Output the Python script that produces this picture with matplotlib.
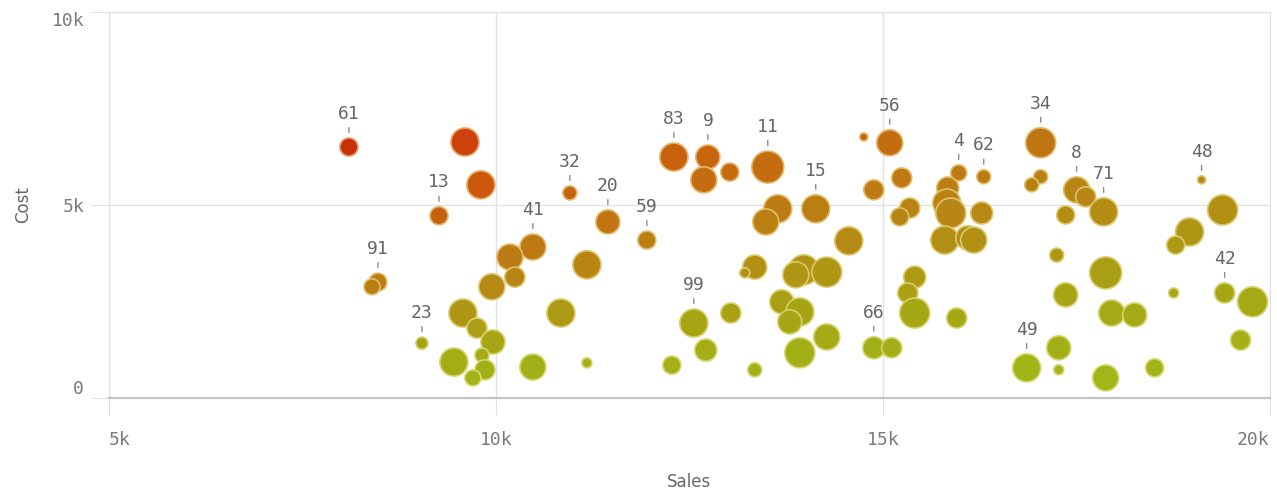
import numpy as np
import matplotlib.pyplot as plt
from matplotlib.colors import LinearSegmentedColormap, Normalize, to_rgb

# bubble data
sales = [8100, 9600, 9806, 9264, 8475, 8398, 9044, 10956, 11447, 10478,
         10181, 10245, 9948, 11176, 10840, 9574, 9755, 9961, 9457, 9819,
         9858, 9703, 10478, 11176, 11951, 12300, 12739, 12687, 13023, 13514,
         13643, 13488, 14134, 14561, 13346, 13217, 13979, 13876, 14276, 13695,
         13928, 13798, 14276, 13928, 12558, 13036, 12713, 12274, 13346, 14755,
         15090, 15245, 14884, 15349, 15220, 15413, 15323, 15413, 14884, 15116,
         15956, 15982, 15840, 15827, 15879, 16279, 16305, 15801, 16098, 16176,
         17041, 17041, 16925, 17506, 17623, 17364, 17855, 17248, 17881, 17364,
         17959, 18256, 16860, 17274, 17274, 17881, 18514, 19121, 19393, 18966,
         18786, 18760, 19419, 19780, 19625]
cost = [6500, 6630, 5520, 4720, 3000, 2880, 1420, 5310, 4560, 3910,
        3650, 3130, 2880, 3450, 2200, 2200, 1810, 1450, 930, 1110,
        730, 520, 800, 910, 4090, 6240, 6240, 5650, 5850, 5980,
        4900, 4560, 4900, 4070, 3390, 3240, 3320, 3190, 3260, 2490,
        2230, 1970, 1580, 1170, 1940, 2200, 1240, 850, 730, 6760,
        6610, 5700, 5390, 4920, 4690, 3130, 2720, 2200, 1300, 1300,
        2070, 5830, 5440, 5050, 4790, 4790, 5730, 4090, 4150, 4090,
        6610, 5730, 5520, 5390, 5210, 4740, 4820, 3700, 3240, 2670,
        2200, 2150, 780, 1300, 730, 520, 780, 5650, 4870, 4300,
        3960, 2720, 2720, 2490, 1500]
qty = [81, 196, 196, 81, 81, 64, 36, 49, 144, 169,
       169, 100, 169, 196, 196, 196, 100, 144, 196, 49,
       100, 64, 169, 25, 81, 196, 144, 169, 81, 256,
       196, 169, 196, 196, 144, 25, 225, 169, 225, 144,
       196, 144, 169, 225, 196, 100, 121, 81, 49, 16,
       169, 100, 100, 100, 81, 121, 100, 225, 121, 100,
       100, 64, 121, 196, 225, 121, 49, 196, 144, 169,
       225, 49, 49, 169, 100, 81, 196, 49, 256, 144,
       169, 144, 196, 144, 25, 169, 81, 16, 225, 196,
       81, 25, 100, 225, 100]
ids = ['61', '', '', '13', '91', '', '23', '32', '20', '41',
       '', '', '', '', '', '', '', '', '', '',
       '', '', '', '', '59', '83', '9', '', '', '11',
       '', '', '15', '', '', '', '', '', '', '',
       '', '', '', '', '99', '', '', '', '', '',
       '56', '', '', '', '', '', '', '', '66', '',
       '', '4', '', '', '', '', '62', '', '', '',
       '34', '', '', '8', '', '', '71', '', '', '',
       '', '', '49', '', '', '', '', '48', '', '',
       '', '', '42', '', '']

x = np.array(sales)
y = np.array(cost)
s = np.array(qty) * 2.07
ratio = y / x

cmap = LinearSegmentedColormap.from_list('margin', [
    (0.0, '#9fbb1a'), (0.18, '#a6a514'), (0.33, '#b58a14'), (0.47, '#c07412'),
    (0.59, '#c8620e'), (0.79, '#cf460a'), (1.0, '#c2290a')])
norm = Normalize(0.0, 0.85)
faces = cmap(norm(ratio))
edges = [tuple(0.45 * np.array(to_rgb(c[:3])) + 0.55 * np.array([1.0, 0.95, 0.7])) for c in faces]

fig = plt.figure(figsize=(12.77, 4.95), dpi=100)
ax = fig.add_axes([0.0854, 0.196, 0.9088, 0.780])

ax.scatter(x, y, s=s, c=faces, edgecolors=edges, linewidths=1.2, zorder=3)

for xi, yi, si, lab in zip(x, y, s, ids):
    if not lab:
        continue
    r = np.sqrt(si) / 2
    ax.annotate(lab, xy=(xi, yi), xytext=(0, r + 11), textcoords='offset points',
                ha='center', va='bottom', fontsize=13, color='#666666',
                family='DejaVu Sans Mono', zorder=4,
                arrowprops=dict(arrowstyle='-', color='#8a8a8a', lw=1.0,
                                shrinkA=1.5, shrinkB=r + 4))

ax.set_xlim(5000, 20000)
ax.set_ylim(0, 10000)
ax.set_xticks([5000, 10000, 15000, 20000])
ax.set_xticklabels(['5k', '10k', '15k', '20k'])
ax.set_yticks([0, 5000, 10000])
ax.set_yticklabels(['0', '5k', '10k'])
ax.grid(True, color='#e2e2e2', lw=1, zorder=0)
ax.tick_params(axis='x', length=12, color='#e0e0e0', pad=12, labelsize=13, labelcolor='#7a7a7a')
ax.tick_params(axis='y', length=12, color='#e0e0e0', pad=6, labelsize=13, labelcolor='#7a7a7a')
for t in ax.get_xticklabels() + ax.get_yticklabels():
    t.set_family('DejaVu Sans Mono')
xl = ax.get_xticklabels()
xl[0].set_ha('left')
xl[-1].set_ha('right')
yl = ax.get_yticklabels()
yl[0].set_va('bottom')
yl[-1].set_va('top')

for side in ['top', 'right', 'left']:
    ax.spines[side].set_color('#e0e0e0')
ax.spines['bottom'].set_color('#c4c4c4')
ax.spines['bottom'].set_linewidth(1.6)

ax.set_xlabel('Sales', fontsize=12, color='#666666', labelpad=17)
ax.set_ylabel('Cost', fontsize=12, color='#666666', labelpad=14)

fig.savefig('out.png', dpi=100)
